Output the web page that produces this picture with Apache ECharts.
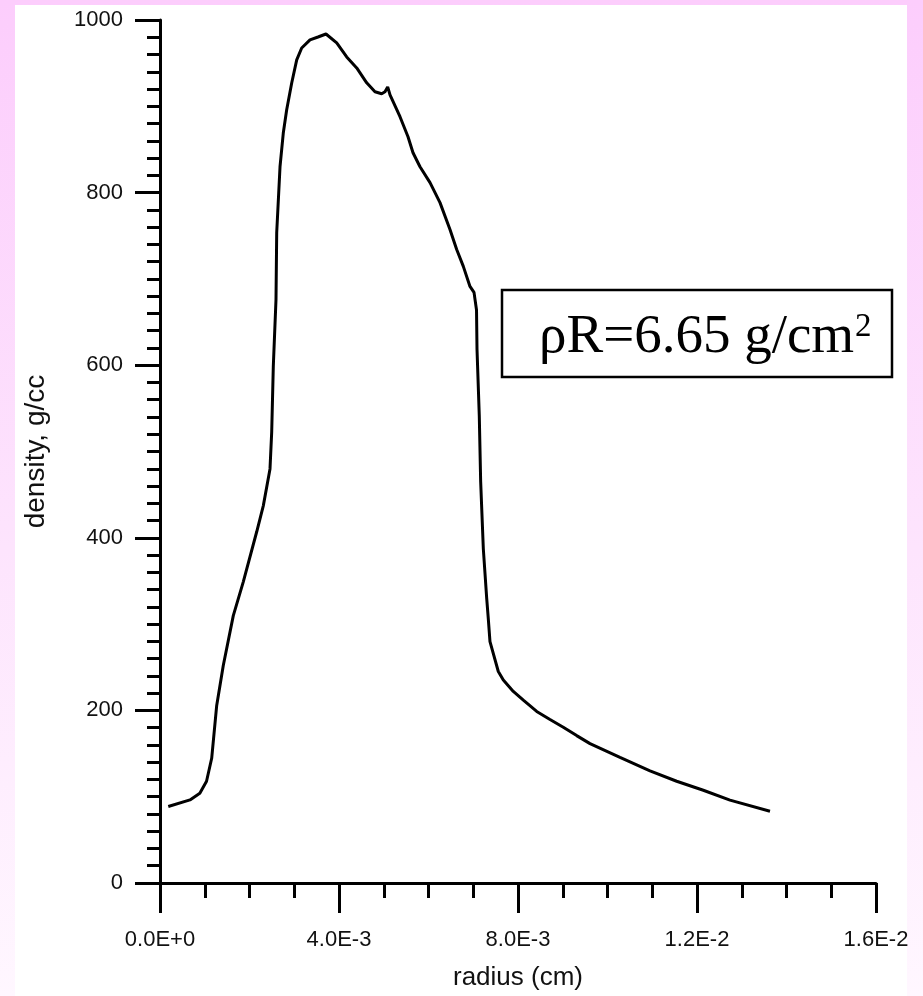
<!DOCTYPE html>
<html>
<head>
<meta charset="utf-8">
<script src="https://cdn.jsdelivr.net/npm/echarts@6/dist/echarts.min.js"></script>
<style>
  html, body { margin: 0; padding: 0; }
  body { width: 923px; height: 996px; position: relative; overflow: hidden;
         background: linear-gradient(to bottom, #fccdfc 0%, #fde4fd 55%, #fff7ff 100%); }
  #panel { position: absolute; left: 15px; top: 5px; width: 892px; height: 991px; background: #ffffff; }
  #chart { position: absolute; left: 0; top: 0; width: 923px; height: 996px; }
</style>
</head>
<body>
<div id="panel"></div>
<div id="chart"></div>
<script>
// radius (cm)
const radius = [
  1.85e-4, 6.7e-4, 8.9e-4, 1.04e-3, 1.155e-3, 1.267e-3, 1.414e-3, 1.638e-3, 1.861e-3, 2.161e-3,
  2.308e-3, 2.458e-3, 2.496e-3, 2.532e-3, 2.592e-3, 2.608e-3, 2.682e-3, 2.755e-3, 2.831e-3, 2.943e-3,
  3.055e-3, 3.166e-3, 3.352e-3, 3.531e-3, 3.709e-3, 3.949e-3, 4.172e-3, 4.396e-3, 4.619e-3, 4.804e-3,
  4.954e-3, 5.028e-3, 5.088e-3, 5.14e-3, 5.363e-3, 5.542e-3, 5.654e-3, 5.81e-3, 6.034e-3, 6.257e-3,
  6.48e-3, 6.63e-3, 6.778e-3, 6.927e-3, 7.017e-3, 7.061e-3, 7.073e-3, 7.084e-3, 7.135e-3, 7.166e-3,
  7.225e-3, 7.301e-3, 7.336e-3, 7.374e-3, 7.56e-3, 7.672e-3, 7.895e-3, 8.119e-3, 8.418e-3, 8.715e-3,
  9.012e-3, 9.311e-3, 9.609e-3, 1.0279e-2, 1.095e-2, 1.1546e-2, 1.2141e-2, 1.2737e-2, 1.3631e-2
];
// density (g/cc)
const density = [
  88.7, 96.3, 104, 117.9, 144.5, 205.8, 252, 309.8, 349, 407,
  437, 479.8, 522.5, 598.8, 676, 753.8, 830, 869, 896, 927,
  953.8, 967.6, 976.9, 980.3, 983.8, 973.4, 957.2, 944.5, 927.2, 916.8,
  914.5, 916.8, 922.5, 913.3, 887.9, 864.7, 846.2, 830, 811.6, 788.4,
  757.2, 734.1, 714.5, 691.3, 684.4, 685.5, 664, 618.5, 541, 464.7,
  387.3, 329.5, 306.4, 279.8, 245.1, 235.1, 222, 211.9, 198.8, 189.5,
  180.5, 170.8, 161.5, 145.5, 130, 117.9, 107.5, 96, 83.2
];
const xTickLabels = ['0.0E+0', '4.0E-3', '8.0E-3', '1.2E-2', '1.6E-2'];
const yTickLabels = ['0', '200', '400', '600', '800', '1000'];
const annotation = 'ρR=6.65 g/cm';
const annotationSup = '2';

const X_INTERVAL = 0.004;
const Y_INTERVAL = 200;

const chart = echarts.init(document.getElementById('chart'), null, { renderer: 'canvas' });
const seriesData = radius.map((r, i) => [r, density[i]]);

chart.setOption({
  backgroundColor: 'transparent',
  animation: false,
  grid: { left: 160, top: 20, width: 716, height: 865, containLabel: false },
  xAxis: {
    type: 'value', min: 0, max: 0.016, interval: X_INTERVAL,
    name: 'radius (cm)', nameLocation: 'middle', nameGap: 82,
    nameTextStyle: { fontFamily: 'Liberation Sans', fontSize: 26, color: '#111' },
    axisLine: { show: true, onZero: false, lineStyle: { color: '#000', width: 3 } },
    axisTick: { show: true, inside: false, length: 30, lineStyle: { color: '#000', width: 3 } },
    minorTick: { show: true, splitNumber: 4, length: 15, lineStyle: { color: '#000', width: 3 } },
    splitLine: { show: false },
    axisLabel: {
      margin: 46, fontFamily: 'Liberation Sans', fontSize: 22, color: '#111',
      formatter: v => xTickLabels[Math.round(v / X_INTERVAL)] || ''
    }
  },
  yAxis: {
    type: 'value', min: 0, max: 1000, interval: Y_INTERVAL,
    name: 'density, g/cc', nameLocation: 'middle', nameGap: 110, nameRotate: 90,
    nameTextStyle: { fontFamily: 'Liberation Sans', fontSize: 28, color: '#111' },
    axisLine: { show: true, onZero: false, lineStyle: { color: '#000', width: 3 } },
    axisTick: { show: true, inside: false, length: 25, lineStyle: { color: '#000', width: 3 } },
    minorTick: { show: true, splitNumber: 10, length: 13, lineStyle: { color: '#000', width: 3 } },
    splitLine: { show: false },
    axisLabel: {
      margin: 37, fontFamily: 'Liberation Sans', fontSize: 22, color: '#111',
      formatter: v => yTickLabels[Math.round(v / Y_INTERVAL)] || ''
    }
  },
  series: [{
    type: 'line',
    data: seriesData,
    showSymbol: false,
    smooth: false,
    lineStyle: { color: '#000', width: 3 },
    z: 5
  }],
  graphic: [{
    type: 'group',
    z: 100,
    children: [
      { type: 'rect', shape: { x: 502, y: 290, width: 390, height: 87 },
        style: { fill: '#fff', stroke: '#000', lineWidth: 2.5 } },
      { type: 'text', x: 539, y: 338,
        style: {
          text: '{a|' + annotation + '}{s|' + annotationSup + '}',
          align: 'left', verticalAlign: 'middle',
          rich: {
            a: { fontFamily: 'Liberation Serif', fontSize: 55, fill: '#000', lineHeight: 60 },
            s: { fontFamily: 'Liberation Serif', fontSize: 33, fill: '#000', verticalAlign: 'top', lineHeight: 33, padding: [3, 0, 0, 1] }
          }
        } }
    ]
  }]
});
</script>
</body>
</html>
